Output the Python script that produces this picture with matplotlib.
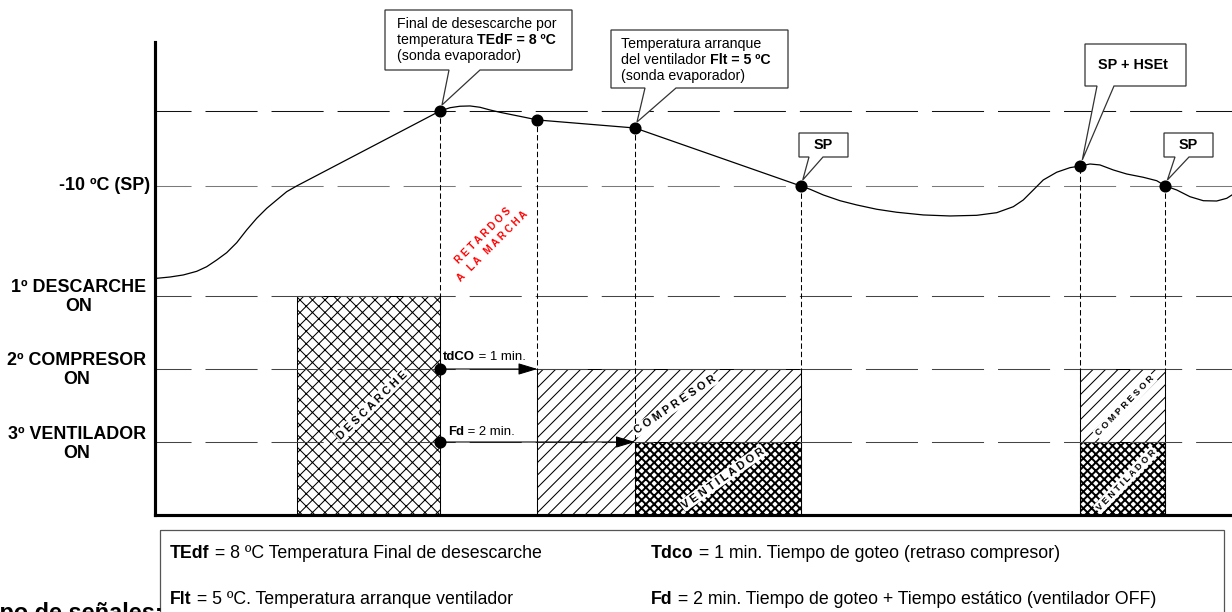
import matplotlib
matplotlib.use('Agg')
import matplotlib.pyplot as plt
from matplotlib.patches import Polygon, Rectangle

plt.rcParams['font.family'] = ['Liberation Sans', 'DejaVu Sans']
plt.rcParams['lines.scale_dashes'] = False
plt.rcParams['hatch.linewidth'] = 0.5

# ---------------------------------------------------------------------------
# Datos: tiempo en minutos (0 = final del desescarche), niveles del esquema
# ---------------------------------------------------------------------------
t_ini_desc = -1.47
t_fin_desc = 0.0
tdco = 1.0
fd = 2.0
t_sp1 = 3.70
t_hset = 6.567
t_sp2 = 7.44

niv_vent = 1.0
niv_comp = 2.0
niv_desc = 3.0
niv_sp = 4.507
niv_tedf = 5.534
niv_flt = 5.301
niv_comp_on = 5.411
niv_hset = 4.781

curva_t = [-2.906, -2.769, -2.633, -2.495, -2.393, -2.290, -2.188, -2.085,
           -1.983, -1.880, -1.777, -1.675, -1.572, t_ini_desc,
           t_fin_desc, 0.103, 0.205, 0.308, 0.410, 0.513, 0.615, 0.752, 0.889,
           tdco, fd, t_sp1,
           3.795, 3.931, 4.103, 4.274, 4.479, 4.684, 4.957, 5.231, 5.505,
           5.710, 5.880, 5.982, 6.085, 6.187, 6.325, 6.462, t_hset,
           6.667, 6.769, 6.906, 7.043, 7.213, 7.351, t_sp2,
           7.556, 7.692, 7.829, 7.966, 8.069, 8.123]
curva_niv = [3.242, 3.260, 3.288, 3.338, 3.401, 3.493, 3.593, 3.730,
             3.904, 4.064, 4.201, 4.315, 4.429, niv_sp,
             niv_tedf, 5.579, 5.599, 5.603, 5.585, 5.548, 5.516, 5.479, 5.442,
             niv_comp_on, niv_flt, niv_sp,
             4.462, 4.384, 4.305, 4.247, 4.188, 4.147, 4.110, 4.096, 4.105,
             4.141, 4.223, 4.315, 4.452, 4.589, 4.695, 4.758, niv_hset,
             4.808, 4.795, 4.726, 4.671, 4.626, 4.579, niv_sp,
             4.452, 4.360, 4.305, 4.301, 4.338, 4.384]

puntos_t = [t_fin_desc, tdco, fd, t_sp1, t_hset, t_sp2]
puntos_niv = [niv_tedf, niv_comp_on, niv_flt, niv_sp, niv_hset, niv_sp]

barras_ini = [t_ini_desc, tdco, fd, t_hset, t_hset]
barras_fin = [t_fin_desc, t_sp1, t_sp1, t_sp2, t_sp2]
barras_alto = [niv_desc, niv_comp, niv_vent, niv_comp, niv_vent]
barras_trama = ['xxxx', '////', 'xxxxxx', '////', 'xxxxxx']

niveles_h = [niv_vent, niv_comp, niv_desc, niv_sp, niv_tedf]
colores_h = ['#444444', '#444444', '#444444', '#7a7a7a', '#111111']

etiquetas_y = ['3º VENTILADOR\nON', '2º COMPRESOR\nON', '1º DESCARCHE\nON', '-10 ºC (SP)']

# ---------------------------------------------------------------------------
W, H = 1232, 612
fig = plt.figure(figsize=(W / 150, H / 150), dpi=150)
ax = fig.add_axes([155 / W, (H - 515) / H, (W - 155) / W, (515 - 42) / H])
ax.set_xlim(-2.923, 8.123)
ax.set_ylim(0, 6.479)
for s in ['top', 'right']:
    ax.spines[s].set_visible(False)
for s in ['left', 'bottom']:
    ax.spines[s].set_linewidth(1.5)
    ax.spines[s].set_zorder(6)
ax.set_xticks([])
ax.set_yticks([])

# barras de estado
for x0, x1, h, tr in zip(barras_ini, barras_fin, barras_alto, barras_trama):
    b = ax.bar(x0, h, width=x1 - x0, align='edge', color='white',
               edgecolor='black', linewidth=0.5, hatch=tr, zorder=1)
    if tr == 'xxxxxx' and hasattr(b[0], 'set_hatch_linewidth'):
        b[0].set_hatch_linewidth(0.95)

# lineas horizontales de referencia
for lv, c in zip(niveles_h, colores_h):
    ax.axhline(lv, color=c, lw=0.5, ls=(7.7, (25, 6.7)), zorder=2)

# lineas verticales de eventos
ax.vlines(puntos_t, 0, puntos_niv, colors='black', lw=0.5,
          linestyles=(0, (2.6, 1.4)), zorder=2)

# retardos (flechas)
for t_fin, lv in [(tdco, niv_comp), (fd, niv_vent)]:
    ax.annotate('', xy=(t_fin, lv), xytext=(t_fin_desc, lv),
                arrowprops=dict(arrowstyle='-|>,head_length=1.0,head_width=0.3',
                                mutation_scale=8, lw=0.5, color='black',
                                shrinkA=0, shrinkB=0), zorder=3)

# curva de temperatura
ax.plot(curva_t, curva_niv, color='black', lw=0.6, zorder=3, clip_on=False)
ax.plot(puntos_t, puntos_niv, 'o', ms=4.8, color='black', zorder=4)
ax.plot([t_fin_desc, t_fin_desc], [niv_comp, niv_vent], 'o', ms=4.8,
        color='black', zorder=4)

# ---------------------------------------------------------------------------
# Capa de anotaciones en pixeles
# ---------------------------------------------------------------------------
ov = fig.add_axes([0, 0, 1, 1])
ov.set_xlim(0, W)
ov.set_ylim(H, 0)
ov.axis('off')


def a_px(t, lv):
    return ov.transData.inverted().transform(ax.transData.transform((t, lv)))


def texto_mixto(x, y, partes, size, z=7):
    prev = None
    for txt, negrita in partes:
        w = 'bold' if negrita else 'normal'
        if prev is None:
            prev = ov.text(x, y, txt, fontsize=size, fontweight=w,
                           ha='left', va='baseline', zorder=z)
        else:
            prev = ov.annotate(txt, xy=(1, 0), xycoords=prev, fontsize=size,
                               fontweight=w, ha='left', va='bottom', zorder=z)


def llamada(x0, y0, x1, y1, b0, b1, t, lv):
    px, py = a_px(t, lv)
    tip = (px + 2, py - 6)
    verts = [(x0, y0), (x1, y0), (x1, y1), (b1, y1), tip, (b0, y1), (x0, y1)]
    ov.add_patch(Polygon(verts, closed=True, fc='white', ec='#333333',
                         lw=0.6, zorder=5))


# etiquetas del eje vertical
ov.text(150, 186, etiquetas_y[3], ha='right', va='center', fontsize=8.6,
        fontweight='bold')
for lab, yy in zip(etiquetas_y[:3], [444, 370, 297]):
    ov.text(146, yy, lab, ha='right', va='center', multialignment='center',
            fontsize=8.6, fontweight='bold', linespacing=1.2)

# llamadas
llamada(385, 10, 572, 70, 449, 480, t_fin_desc, niv_tedf)
ov.text(397, 28, 'Final de desescarche por', fontsize=6.8, zorder=7)
texto_mixto(397, 44, [('temperatura ', False), ('TEdF = 8 ºC', True)], 6.8)
ov.text(397, 60, '(sonda evaporador)', fontsize=6.8, zorder=7)

llamada(611, 30, 788, 88, 645, 676, fd, niv_flt)
ov.text(621, 48, 'Temperatura arranque', fontsize=6.8, zorder=7)
texto_mixto(621, 64, [('del ventilador ', False), ('Flt = 5 ºC', True)], 6.8)
ov.text(621, 80, '(sonda evaporador)', fontsize=6.8, zorder=7)

llamada(799, 133, 848, 157, 809, 823, t_sp1, niv_sp)
ov.text(823.5, 145, 'SP', ha='center', va='center', fontsize=6.9,
        fontweight='bold', zorder=7)

llamada(1085, 44, 1186, 86, 1097, 1114, t_hset, niv_hset)
ov.text(1133, 65, 'SP + HSEt', ha='center', va='center', fontsize=6.9,
        fontweight='bold', zorder=7)

llamada(1164, 133, 1213, 157, 1175, 1189, t_sp2, niv_sp)
ov.text(1188.5, 145, 'SP', ha='center', va='center', fontsize=6.9,
        fontweight='bold', zorder=7)

# rotulos de las barras
caja = dict(fc='white', ec='none', pad=0.6)
for txt, x, y, rot, fs in [('DESCARCHE', 372, 405, 44, 5.3),
                           ('COMPRESOR', 675, 405, 34, 5.3),
                           ('VENTILADOR', 723, 478, 35, 5.3),
                           ('COMPRESOR', 1125, 406, 46, 4.4),
                           ('VENTILADOR', 1126, 480, 46, 4.4)]:
    ov.text(x, y, ' '.join(txt), rotation=rot, rotation_mode='anchor',
            ha='center', va='center', fontsize=fs, fontweight='bold',
            bbox=caja, zorder=7)

ov.text(488, 241, 'R E T A R D O S\nA   L A   M A R C H A', rotation=45,
        rotation_mode='anchor', ha='center', va='center',
        multialignment='center', linespacing=1.5, color='red',
        fontweight='bold', fontsize=4.8, zorder=7)

# textos de los retardos
texto_mixto(443, 360, [('tdCO', True), (' = 1 min.', False)], 6.3)
texto_mixto(448, 435, [('Fd', True), (' = 2 min.', False)], 6.3)

# leyenda inferior
ov.add_patch(Rectangle((160, 530), 1064, 120, fc='none', ec='#555555',
                       lw=0.6, clip_on=False))
texto_mixto(170, 558, [('TEdf', True), (' = 8 ºC Temperatura Final de desescarche', False)], 8.5)
texto_mixto(651, 558, [('Tdco', True), (' = 1 min. Tiempo de goteo (retraso compresor)', False)], 8.5)
texto_mixto(170, 604, [('Flt', True), (' = 5 ºC. Temperatura arranque ventilador', False)], 8.5)
texto_mixto(651, 604, [('Fd', True), (' = 2 min. Tiempo de goteo + Tiempo estático (ventilador OFF)', False)], 8.5)

ov.text(163, 620, 'Tiempo de señales:', ha='right', va='baseline',
        fontsize=11.3, fontweight='bold')

fig.savefig('out.png', dpi=150, facecolor='white')
